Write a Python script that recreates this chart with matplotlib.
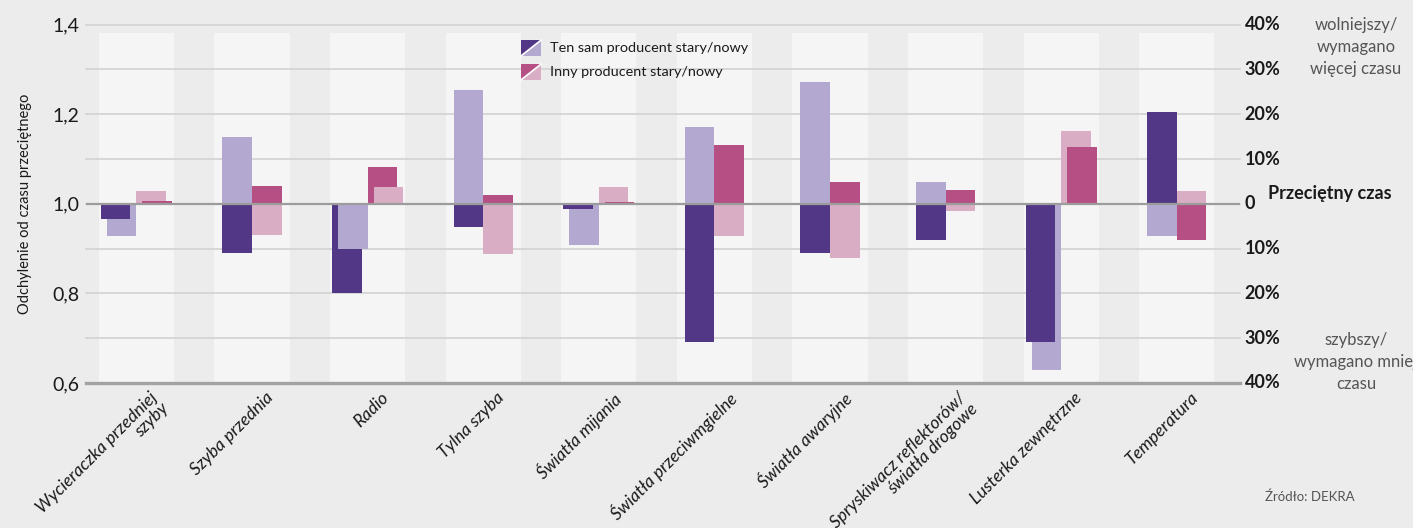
import matplotlib
matplotlib.use('Agg')
import matplotlib.pyplot as plt
from matplotlib.patches import Patch, Polygon
from matplotlib.lines import Line2D
from matplotlib.legend_handler import HandlerBase
import matplotlib.transforms as mtransforms

plt.rcParams['font.family'] = ['Lato', 'DejaVu Sans']

categories = ['Wycieraczka przedniej\nszyby', 'Szyba przednia', 'Radio', 'Tylna szyba',
              'Światła mijania', 'Światła przeciwmgielne', 'Światła awaryjne',
              'Spryskiwacz reflektorów/\nświatła drogowe', 'Lusterka zewnętrzne', 'Temperatura']
same_old = [0.967, 0.891, 0.800, 0.949, 0.989, 0.691, 0.891, 0.920, 0.691, 1.205]
same_new = [0.929, 1.149, 0.900, 1.254, 0.909, 1.172, 1.272, 1.049, 0.628, 0.929]
other_old = [1.007, 1.040, 1.083, 1.020, 1.004, 1.132, 1.049, 1.031, 1.127, 0.920]
other_new = [1.029, 0.931, 1.038, 0.889, 1.038, 0.929, 0.880, 0.983, 1.163, 1.029]

left_ticks = [0.6, 0.8, 1.0, 1.2, 1.4]
left_labels = ['0,6', '0,8', '1,0', '1,2', '1,4']
right_ticks = [0.6, 0.7, 0.8, 0.9, 1.0, 1.1, 1.2, 1.3, 1.4]
right_labels = ['40%', '30%', '20%', '10%', '0', '10%', '20%', '30%', '40%']
legend_labels = ['Ten sam producent stary/nowy', 'Inny producent stary/nowy']

DARK_PURPLE = '#523786'
LIGHT_PURPLE = '#b3a8d0'
DARK_PINK = '#b64f83'
LIGHT_PINK = '#d9adc4'
BG = '#ececec'
BAND = '#f5f5f5'
TEXT = '#1a1a1a'
GREY_TEXT = '#555555'

unit = 117.0          # pixels per category
bar_w = 30 / unit
shift = 6 / unit
band_w = 76 / unit


class SplitSquare(HandlerBase):
    def __init__(self, c_dark, c_light):
        super().__init__()
        self.c_dark = c_dark
        self.c_light = c_light

    def create_artists(self, legend, orig_handle, xdescent, ydescent,
                       width, height, fontsize, trans):
        x0, y0 = -xdescent, -ydescent - 0.15 * height
        h = height * 1.15
        upper = Polygon([[x0, y0], [x0, y0 + h], [x0 + width, y0 + h]],
                        closed=True, facecolor=self.c_dark, edgecolor='none', transform=trans)
        lower = Polygon([[x0, y0], [x0 + width, y0], [x0 + width, y0 + h]],
                        closed=True, facecolor=self.c_light, edgecolor='none', transform=trans)
        diag = Line2D([x0, x0 + width], [y0, y0 + h], color='white', lw=1.2, transform=trans)
        return [upper, lower, diag]


def draw_bar(ax, x, value, color, z):
    ax.bar(x, value - 1.0, bottom=1.0, width=bar_w, align='edge',
           color=color, linewidth=0, zorder=z)


fig = plt.figure(figsize=(14.13, 5.28), dpi=100, facecolor=BG)
ax = fig.add_axes([86 / 1413, 145 / 528, (1240 - 86) / 1413, (503.3 - 145) / 528])
ax.set_facecolor(BG)
ax.set_xlim(-13 / unit, 9 + 89 / unit + 13 / unit)
ax.set_ylim(0.6, 1.4)

for i in range(len(categories)):
    ax.axvspan(i, i + band_w, ymin=0, ymax=(1.381 - 0.6) / 0.8,
               color=BAND, linewidth=0, zorder=0)

for v in right_ticks:
    ax.axhline(v, color='#d2d2d2', lw=1.2, zorder=1, clip_on=False)
ax.axhline(1.0, color='#9c9c9c', lw=1.6, zorder=5)
ax.axhline(0.6, color='#a2a2a2', lw=2.4, zorder=5, clip_on=False)

for i in range(len(categories)):
    # same producer: dark bar steps left when both go the same way
    x_new = i + 8 / unit
    so, sn = same_old[i], same_new[i]
    same_dir = (so - 1) * (sn - 1) > 0
    x_old = x_new - shift if same_dir else x_new
    z_old, z_new = (3, 2) if abs(so - 1) < abs(sn - 1) else (2, 3)
    draw_bar(ax, x_old, so, DARK_PURPLE, z_old)
    draw_bar(ax, x_new, sn, LIGHT_PURPLE, z_new)

    # other producer: smaller bar steps right when both go the same way
    x_base = i + 38 / unit
    oo, on = other_old[i], other_new[i]
    same_dir = (oo - 1) * (on - 1) > 0
    if abs(oo - 1) >= abs(on - 1):
        x_oo, x_on = x_base, (x_base + shift if same_dir else x_base)
        z_oo, z_on = 2, 3
    else:
        x_on, x_oo = x_base, (x_base + shift if same_dir else x_base)
        z_oo, z_on = 3, 2
    draw_bar(ax, x_oo, oo, DARK_PINK, z_oo)
    draw_bar(ax, x_on, on, LIGHT_PINK, z_on)

for s in ax.spines.values():
    s.set_visible(False)

ax.set_yticks(left_ticks)
ax.set_yticklabels(left_labels, fontsize=14, color=TEXT)
ax.tick_params(axis='y', length=0, pad=5)
ax.set_ylabel('Odchylenie od czasu przeciętnego', fontsize=10.5, color=TEXT, labelpad=14)

ax.set_xticks([i + 38 / unit + 0.11 for i in range(len(categories))])
ax.set_xticklabels(categories, rotation=45, ha='right', va='top', rotation_mode='anchor',
                   fontsize=12.6, style='italic', color=TEXT, linespacing=1.0)
ax.tick_params(axis='x', length=0, pad=4.5)

right = mtransforms.blended_transform_factory(ax.transAxes, ax.transData)
for v, lab in zip(right_ticks, right_labels):
    ax.text(1.004, v, lab, transform=right, ha='left', va='center',
            fontsize=13, fontweight='bold', color=TEXT)
fig.text(1268 / 1413, 1 - 194 / 528, 'Przeciętny czas', ha='left', va='center',
         fontsize=13, fontweight='bold', color=TEXT)
fig.text(1356 / 1413, 1 - 47 / 528, 'wolniejszy/\nwymagano\nwięcej czasu', ha='center', va='center',
         fontsize=12, color=GREY_TEXT, linespacing=1.45)
fig.text(1356 / 1413, 1 - 362 / 528, 'szybszy/\nwymagano mniej\nczasu', ha='center', va='center',
         fontsize=12, color=GREY_TEXT, linespacing=1.45)
fig.text(1265 / 1413, 1 - 497 / 528, 'Źródło: DEKRA', ha='left', va='center',
         fontsize=9.5, color=GREY_TEXT)

h_same = Patch(facecolor=DARK_PURPLE)
h_other = Patch(facecolor=DARK_PINK)
leg = fig.legend([h_same, h_other], legend_labels, loc='upper left',
                 bbox_to_anchor=(508 / 1413, 1 - 27 / 528), frameon=False,
                 fontsize=10.4, handlelength=1.4, handleheight=1.1, handletextpad=0.6,
                 labelspacing=0.7,
                 handler_map={h_same: SplitSquare(DARK_PURPLE, LIGHT_PURPLE),
                              h_other: SplitSquare(DARK_PINK, LIGHT_PINK)})
for t in leg.get_texts():
    t.set_color(TEXT)

fig.savefig('out.png', dpi=100, facecolor=BG)
